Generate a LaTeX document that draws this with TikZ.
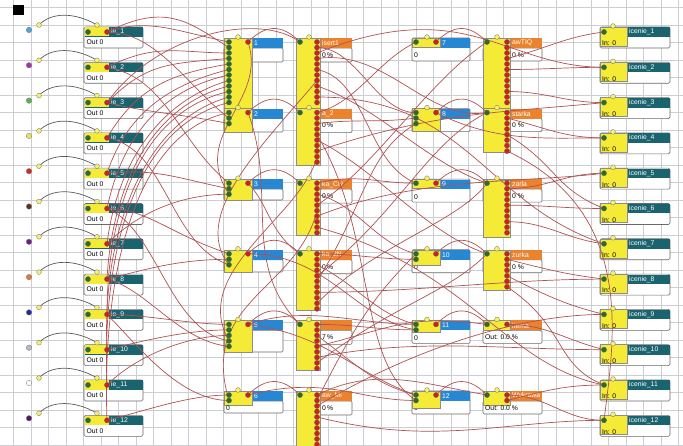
\documentclass[tikz,border=0pt]{standalone}
\usepackage{fontspec}
\setmainfont{Liberation Sans}
\definecolor{teal1}{RGB}{25,100,110}
\definecolor{blue1}{RGB}{40,135,210}
\definecolor{orng}{RGB}{235,130,45}
\definecolor{yel}{RGB}{245,235,55}
\definecolor{wirec}{RGB}{176,82,82}
\definecolor{gridc}{RGB}{205,205,212}
\definecolor{reddot}{RGB}{210,30,30}
\definecolor{grndot}{RGB}{40,110,40}
\definecolor{boxedge}{RGB}{105,105,105}
\definecolor{src1}{RGB}{70,170,220}
\definecolor{src2}{RGB}{170,50,170}
\definecolor{src3}{RGB}{90,180,70}
\definecolor{src4}{RGB}{235,225,90}
\definecolor{src5}{RGB}{210,40,40}
\definecolor{src6}{RGB}{100,50,30}
\definecolor{src7}{RGB}{110,30,140}
\definecolor{src8}{RGB}{230,120,50}
\definecolor{src9}{RGB}{40,40,150}
\definecolor{src10}{RGB}{185,185,195}
\definecolor{src11}{RGB}{255,255,255}
\definecolor{src12}{RGB}{90,20,100}
\newcommand\wcon[4]{\draw[wire] (#1) .. controls +(#3) and +(#4) .. (#2);}
\begin{document}
\begin{tikzpicture}[x=1pt,y=-1pt,
  wire/.style={draw=wirec, line width=0.7pt},
  arcc/.style={draw=black!65, line width=0.7pt},
  gdot/.style={circle, fill=grndot, draw=black!60, line width=0.3pt, inner sep=0pt, minimum size=5.2pt},
  rdot/.style={gdot, fill=reddot},
  ydot/.style={gdot, fill=yel!75!white, draw=black!55, minimum size=4.8pt},
  lbl/.style={font=\fontsize{6.8}{7.5}\selectfont, inner sep=0pt, anchor=west},
  wlbl/.style={lbl, text=white},
  edge1/.style={draw=boxedge, line width=0.6pt},
  ystrip/.style={fill=yel, draw=black!45, line width=0.4pt}]
\useasboundingbox (0,0) rectangle (683,446);
\clip (0,0) rectangle (683,446);
\fill[white] (0,0) rectangle (683,446);
\foreach \k in {0,...,38} \draw[gridc, line width=0.5pt] ({13.3+17.5*\k},0) -- ({13.3+17.5*\k},446);
\foreach \k in {0,...,25} \draw[gridc, line width=0.5pt] (0,{7.3+17.5*\k}) -- (683,{7.3+17.5*\k});
\fill[black] (13,5) rectangle (24,15);

% ---------- input nodes ----------
\foreach \i [evaluate=\i as \y using {27+35.3*(\i-1)}] in {1,...,12} {
  \filldraw[fill=white, edge1, rounded corners=1.5pt] (84,\y) rectangle (143,{\y+21});
  \fill[teal1] (84.5,{\y+0.5}) rectangle (142.5,{\y+10});
  \fill[yel] (84.5,{\y+0.5}) rectangle (109,{\y+9.5});
  \node[wlbl] (inl\i) at (111,{\y+5.2}) {ie\_\i};
  \node[lbl] (ino\i) at (86.5,{\y+15.5}) {Out 0};
  \coordinate (io\i) at (107,{\y+5});
  \coordinate (ig\i) at (88,{\y+5});
  \coordinate (sy\i) at (39,{\y-2});
  \coordinate (ty\i) at (97,{\y-2});
  \coordinate (sc\i) at (29,{\y+3});
  \draw[arcc] (sy\i) .. controls +(12,-13) and +(-22,-13) .. (ty\i);
}

% ---------- column 2 (blue) ----------
\foreach \j/\T/\yb/\ng/\bb in {1/38/108/12/62, 2/108.6/132/3/132, 3/179.2/200/3/200, 4/249.8/272/3/272, 5/320.4/352/5/352, 6/391/405/2/413} {
  \filldraw[fill=white, edge1, rounded corners=1.2pt] (224,{\T+10}) rectangle (283,\bb);
  \fill[blue1] (252,\T) rectangle (283,{\T+10});
  \filldraw[ystrip] (224,\T) rectangle (252,\yb);
  \node[wlbl] (bl\j) at (254,{\T+5.2}) {\j};
  \coordinate (bo\j) at (248,{\T+4});
  \coordinate (by\j) at (238,{\T-1});
  \foreach \k in {1,...,\ng} \coordinate (bg\j-\k) at (229,{\T+4+5.5*(\k-1)});
}
\node[lbl] (b6zero) at (226,408) {0};

% ---------- column 3 (orange, tall) ----------
\foreach \j/\T/\yb/\nr/\lab/\pct in {1/38/108/12/isert1/0, 2/108.6/165/10/a\_2/0, 3/179.2/235/10/ka\_CN/0, 4/249.8/310/11/ka\_2N/0, 5/320.4/370/9/ /7, 6/391/446/10/aw\_Mi/0} {
  \filldraw[fill=white, edge1, rounded corners=1.2pt] (320,{\T+10}) rectangle (352,{\T+24});
  \fill[orng] (320,\T) rectangle (352,{\T+10});
  \filldraw[ystrip] (296,\T) rectangle (320,\yb);
  \node[wlbl] (cl\j) at (322,{\T+5.2}) {\lab};
  \node[lbl] (cp\j) at (322,{\T+17}) {\pct\,\%};
  \coordinate (cg\j) at (300,{\T+4});
  \coordinate (cy\j) at (309,{\T-1});
  \foreach \k in {1,...,\nr} \coordinate (cr\j-\k) at (317,{\T+4+5.5*(\k-1)});
}

% ---------- column 4 (blue) ----------
\foreach \j/\T/\yb/\ng [evaluate=\j as \n using int(\j+6)] in {1/38/47/1, 2/108.6/131/3, 3/179.2/188/1, 4/249.8/265/2, 5/320.4/332/2, 6/391/408/2} {
  \filldraw[fill=white, edge1, rounded corners=1.2pt] (412,\T) rectangle (470,{\T+23});
  \fill[blue1] (440,{\T+0.4}) rectangle (469.6,{\T+10});
  \node[lbl] (dz\j) at (414,{\T+17.5}) {0};
  \filldraw[ystrip] (412,\T) rectangle (440,\yb);
  \node[wlbl] (dl\j) at (442,{\T+5.2}) {\n};
  \coordinate (do\j) at (436,{\T+4});
  \coordinate (dy\j) at (427,{\T-1});
  \foreach \k in {1,...,\ng} \coordinate (dg\j-\k) at (416,{\T+4+5.5*(\k-1)});
}

% ---------- column 5 (orange) ----------
\foreach \j/\T/\yb/\nr/\lab/\tx/\txt in {1/38/108/12/awTIQ/512/0 \%, 2/108.6/152/8/starka/512/0 \%, 3/179.2/237/10/zarla/512/0 \%, 4/249.8/290/7/zurka/512/0 \%, 5/320.4/330/1/ltema/485/Out: 0.0 \%, 6/391/405/2/Wykrawa/485/Out: 0.0 \%} {
  \filldraw[fill=white, edge1, rounded corners=1.2pt] (483,{\T+10}) rectangle (542,{\T+23});
  \fill[orng] (510,\T) rectangle (542,{\T+10});
  \filldraw[ystrip] (483,\T) rectangle (510,\yb);
  \node[wlbl] (el\j) at (512,{\T+5.2}) {\lab};
  \node[lbl] (et\j) at (\tx,{\T+17}) {\txt};
  \coordinate (eg\j) at (487,{\T+4});
  \coordinate (ey\j) at (497,{\T-1});
  \foreach \k in {1,...,\nr} \coordinate (er\j-\k) at (507,{\T+4+5.5*(\k-1)});
}

% ---------- output nodes ----------
\foreach \i [evaluate=\i as \y using {27+35.3*(\i-1)}] in {1,...,12} {
  \filldraw[fill=white, edge1, rounded corners=1.5pt] (600,\y) rectangle (670,{\y+21});
  \fill[teal1] (627,{\y+0.5}) rectangle (669.5,{\y+10});
  \filldraw[ystrip] (600,\y) rectangle (627,{\y+19});
  \node[lbl] (fin\i) at (602,{\y+16.5}) {In: 0};
  \node[wlbl] (fl\i) at (629,{\y+5.2}) {icenie\_\i};
  \coordinate (fg\i) at (604,{\y+5});
  \coordinate (fy\i) at (613,{\y-1});
}

% ---------- wires: inputs -> column 2 ----------
\wcon{io1}{bg1-1}{40,-15}{-50,-10}
\wcon{io1}{bg1-2}{60,-30}{-40,-25}
\wcon{io2}{bg1-3}{50,-25}{-50,0}
\wcon{io3}{bg1-4}{40,-40}{-60,5}
\wcon{io4}{bg1-5}{30,-50}{-60,10}
\wcon{io5}{bg1-6}{20,-60}{-60,15}
\wcon{io6}{bg1-7}{15,-70}{-70,15}
\wcon{io7}{bg1-8}{10,-80}{-70,20}
\wcon{io8}{bg1-9}{5,-90}{-80,20}
\wcon{io9}{bg1-10}{0,-100}{-90,20}
\wcon{io10}{bg1-11}{-5,-110}{-90,25}
\wcon{io11}{bg1-12}{-5,-120}{-100,25}
\wcon{io12}{bg2-1}{-5,-130}{-100,20}
\wcon{io1}{bg2-2}{50,0}{-40,-30}
\wcon{io2}{bg3-1}{60,10}{-50,-40}
\wcon{io3}{bg2-3}{40,10}{-50,-10}
\wcon{io5}{bg3-2}{50,-5}{-50,-10}
\wcon{io6}{bg4-1}{40,0}{-60,-20}
\wcon{io7}{bg3-3}{30,-30}{-50,0}
\wcon{io8}{bg4-2}{40,-10}{-50,0}
\wcon{io9}{bg5-1}{40,0}{-40,0}
\wcon{io10}{bg5-2}{40,-10}{-40,0}
\wcon{io11}{bg5-3}{30,-30}{-40,0}
\wcon{io12}{bg6-1}{40,-10}{-40,0}
\wcon{io4}{bg4-3}{60,10}{-60,-20}
\wcon{io9}{bg6-2}{30,30}{-50,0}
\wcon{io3}{cg1}{50,-70}{-40,-30}
\wcon{io6}{bg5-4}{50,20}{-60,-10}
\wcon{io8}{bg5-5}{40,10}{-50,-5}

% ---------- column 2 -> column 3 ----------
\foreach \j in {1,...,6} {\wcon{bo\j}{cg\j}{18,-18}{-18,-18}}
\wcon{cr2-9}{bg5-4}{-15,60}{-40,-70}
\wcon{cr3-6}{bg6-2}{-20,80}{-30,-100}
\wcon{cr1-8}{bg4-3}{-50,60}{-40,-50}
\wcon{bo1}{bg3-3}{20,60}{-40,-60}
\wcon{bo2}{cg5}{30,80}{-60,-60}
\wcon{bo3}{cg4}{20,20}{-30,-20}

% ---------- column 3 -> columns 4, 5, 6 ----------
\wcon{cr2-1}{dg1-1}{40,-10}{-40,20}
\wcon{cr1-2}{dg2-1}{40,0}{-40,0}
\wcon{cr1-4}{eg2}{70,-10}{-60,10}
\wcon{cr1-6}{dg3-1}{50,10}{-50,-20}
\wcon{cr1-9}{eg3}{60,20}{-60,-20}
\wcon{cr2-3}{dg2-2}{40,-5}{-40,5}
\wcon{cr2-6}{eg4}{60,30}{-60,-20}
\wcon{cr3-1}{dg3-1}{40,-10}{-40,0}
\wcon{cr3-3}{dg4-1}{40,10}{-40,-10}
\wcon{cr3-5}{eg1}{60,-40}{-60,40}
\wcon{cr3-7}{fg5}{100,-40}{-80,10}
\wcon{cr4-1}{dg4-2}{40,0}{-40,0}
\wcon{cr4-3}{dg5-1}{40,20}{-40,-10}
\wcon{cr4-5}{eg2}{80,-60}{-60,30}
\wcon{cr4-8}{fg8}{100,0}{-100,0}
\wcon{cr5-1}{dg5-2}{40,0}{-40,0}
\wcon{cr5-3}{dg6-1}{40,30}{-40,-10}
\wcon{cr5-5}{eg5}{80,-20}{-80,-10}
\wcon{cr5-7}{fg10}{100,-20}{-100,0}
\wcon{cr6-1}{eg6}{60,-30}{-60,-10}
\wcon{cr6-3}{fg9}{100,-60}{-80,0}
\wcon{cr2-8}{fg3}{120,-40}{-100,10}
\wcon{cr1-11}{fg7}{150,0}{-120,-40}
\wcon{cr3-9}{fg11}{150,40}{-100,-20}
\wcon{cr4-10}{eg3}{60,-60}{-30,40}
\wcon{cr5-8}{eg4}{80,-60}{-40,40}
\wcon{cr6-2}{dg4-1}{40,-80}{-40,40}
\wcon{cr1-3}{fg2}{150,-60}{-100,0}
\wcon{cr2-5}{dg6-2}{60,100}{-60,-40}
\wcon{cr4-6}{dg2-3}{50,-80}{-50,30}
\wcon{cr6-5}{fg12}{120,30}{-100,0}

% ---------- column 4 -> column 5 ----------
\foreach \j in {1,...,6} {\wcon{do\j}{eg\j}{18,-18}{-18,-18}}
\wcon{do2}{fg4}{60,30}{-60,0}
\wcon{bo5}{dg5-1}{60,-20}{-60,0}
\wcon{bo4}{dg5-2}{80,0}{-60,-10}
\wcon{bo6}{dg6-2}{80,-20}{-60,0}
\wcon{bo5}{dg6-1}{80,10}{-60,-20}

% ---------- column 5 -> outputs ----------
\wcon{er1-4}{fg1}{40,-10}{-40,5}
\wcon{er1-6}{fg2}{40,0}{-40,0}
\wcon{er1-10}{fg3}{40,0}{-40,0}
\wcon{er2-2}{fg4}{40,10}{-40,0}
\wcon{er3-2}{fg5}{40,0}{-40,0}
\wcon{er3-5}{fg6}{40,0}{-40,0}
\wcon{er3-8}{fg7}{40,0}{-40,-5}
\wcon{er4-2}{fg8}{40,10}{-40,-5}
\wcon{er4-5}{fg9}{40,20}{-40,-10}
\wcon{er5-1}{fg10}{40,0}{-40,-10}
\wcon{er6-1}{fg12}{40,0}{-40,0}
\wcon{er6-2}{fg11}{40,-10}{-40,0}
\wcon{er2-8}{fg12}{130,60}{10,-80}
\wcon{er2-5}{fg6}{50,30}{-50,-20}
\wcon{er4-7}{fg11}{60,40}{-50,-20}

% ---------- port dots (on top) ----------
\foreach \i in {1,...,12} {
  \node[circle, fill=src\i, draw=black!55, line width=0.3pt, inner sep=0pt, minimum size=5.5pt] (scd\i) at (sc\i) {};
  \node[ydot] (syd\i) at (sy\i) {};
  \node[ydot] (tyd\i) at (ty\i) {};
  \node[gdot] (igd\i) at (ig\i) {};
  \node[rdot] (iod\i) at (io\i) {};
  \node[gdot] (fgd\i) at (fg\i) {};
  \node[ydot] (fyd\i) at (fy\i) {};
}
\foreach \j/\ng in {1/12,2/3,3/3,4/3,5/5,6/2} {
  \node[rdot] (bod\j) at (bo\j) {};
  \node[ydot] (byd\j) at (by\j) {};
  \foreach \k in {1,...,\ng} \node[gdot] (bgd\j-\k) at (bg\j-\k) {};
}
\foreach \j/\nr in {1/12,2/10,3/10,4/11,5/9,6/10} {
  \node[gdot] (cgd\j) at (cg\j) {};
  \node[ydot] (cyd\j) at (cy\j) {};
  \foreach \k in {1,...,\nr} \node[rdot] (crd\j-\k) at (cr\j-\k) {};
}
\foreach \j/\ng in {1/1,2/3,3/1,4/2,5/2,6/2} {
  \node[rdot] (dod\j) at (do\j) {};
  \node[ydot] (dyd\j) at (dy\j) {};
  \foreach \k in {1,...,\ng} \node[gdot] (dgd\j-\k) at (dg\j-\k) {};
}
\foreach \j/\nr in {1/12,2/8,3/10,4/7,5/1,6/2} {
  \node[gdot] (egd\j) at (eg\j) {};
  \node[ydot] (eyd\j) at (ey\j) {};
  \foreach \k in {1,...,\nr} \node[rdot] (erd\j-\k) at (er\j-\k) {};
}
\end{tikzpicture}
\end{document}
